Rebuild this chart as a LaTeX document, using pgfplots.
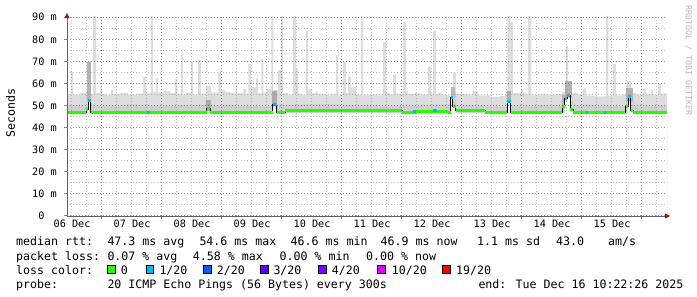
\documentclass[border=0pt]{standalone}
\usepackage{fontspec}
\setmainfont{DejaVu Sans Mono}
\setmonofont{DejaVu Sans Mono}
\usepackage{pgfplots}
\usepackage{pgfplotstable}
\pgfplotsset{compat=1.18}
\usetikzlibrary{arrows.meta}

\definecolor{loss0}{HTML}{26FF00}
\definecolor{loss1}{HTML}{00B8FF}
\definecolor{loss2}{HTML}{0059FF}
\definecolor{loss3}{HTML}{5E00FF}
\definecolor{loss4}{HTML}{7E00FF}
\definecolor{loss10}{HTML}{DD00FF}
\definecolor{loss19}{HTML}{FF0000}
\definecolor{smokeA}{HTML}{DDDDDD}
\definecolor{smokeB}{HTML}{CFCFCF}
\definecolor{smokeC}{HTML}{B2B2B2}
\definecolor{mgrid}{HTML}{821E1E}
\definecolor{mingrid}{HTML}{8C8C8C}
\definecolor{arrowc}{HTML}{8B1A1A}
\definecolor{axisc}{HTML}{606060}
\newcommand\lgfont{\fontsize{11.6bp}{14bp}\selectfont}

% upper envelope of the smoke (ms), time in hours since 06 Dec 00:00
\pgfplotstableread{
h y
10.37 55.4
12.0 65.4
12.68 55.0
15.6 55.6
18.4 69.9
19.88 55.3
20.68 91
22.0 55.8
23.6 58.3
24.28 55.2
26.0 54.8
27.88 57
28.68 55.3
31.6 55.6
34.8 55.0
38.0 55.4
40.8 63
41.88 55.6
43.88 91
44.68 56.2
45.88 62.4
46.68 56.0
49.2 56.6
51.6 55.8
53.6 62
54.52 55.3
55.88 73
56.68 55.0
58.0 55.8
59.88 70.2
60.68 55.0
62.8 70.6
63.88 55.4
66.0 58.9
67.88 56.0
70.92 65.4
71.88 57
73.6 56.2
75.6 55.8
77.88 59.3
78.52 55.6
80.92 57.5
82.0 55.4
82.92 69
83.88 58.4
85.88 62.3
86.8 55.5
88.12 71.1
88.92 55.8
90.4 57.5
92.12 91
92.92 57.0
94.8 66.1
95.88 91
96.68 55.6
98.8 55.0
100.8 91
101.88 66.4
102.8 55.4
104.4 54.8
105.88 84
106.8 57.5
108.4 55.6
109.88 56.3
110.8 55.4
113.6 54.8
115.6 55.3
118.0 72.9
118.92 55.0
120.68 69.9
122.0 55.6
122.68 63.1
124.0 58.1
125.88 55.0
127.88 91
128.8 54.8
131.6 55.0
134.0 54.6
136.8 79
137.88 55.6
139.6 55.0
140.8 63.9
142.0 55.4
144.8 87.7
146.0 56.6
146.8 55.2
149.2 55.7
151.6 55.0
154.8 67.6
155.88 55.4
156.68 83.9
157.88 55.2
158.8 55.9
160.28 55.0
162.0 54.6
163.88 58.6
164.68 64.9
166.0 55.2
169.6 55.0
172.68 56.7
174.8 54.6
179.6 54.0
183.6 54.3
186.52 91
187.6 87.7
188.68 55.6
191.88 57.5
192.68 56.0
194.0 55.2
194.8 91
196.12 55.0
199.6 55.3
202.8 54.8
206.0 55.2
208.4 56.0
210.0 77
210.8 61.1
212.0 55.6
214.8 55.0
216.8 57.8
217.88 54.6
221.6 54.2
225.88 91
226.92 54.4
228.68 68.8
229.88 54.6
232.4 55.0
234.4 61.1
236.0 55.6
238.0 55.0
240.8 57.5
242.0 55.3
244.0 57
244.8 55.0
246.8 60.1
247.88 55.4
250.37 55.4
}\tabUpper

\pgfplotstableread{
h y
10.37 46.5
18.8 52.0
19.88 46.5
92.68 49.5
94.2 46.5
163.88 53.0
164.68 49.5
165.8 46.5
186.52 51.0
187.88 46.5
209.48 52.0
210.52 53.5
211.6 47.5
212.92 46.5
234.8 53.0
235.88 47.5
236.92 46.5
250.37 46.5
}\tabLower

\pgfplotstableread{
h y
10.37 50.2
15.6 49.8
18.0 50.5
18.8 55.0
19.88 50.0
31.6 50.4
43.6 49.9
55.6 50.3
66.0 52.5
67.88 50.2
79.6 49.8
92.68 52.0
94.4 50.3
103.6 50.6
119.6 50.2
135.6 50.0
151.6 50.4
163.88 56.0
166.0 50.2
177.6 49.6
186.52 54.0
188.0 50.0
199.6 50.3
208.4 52.0
209.48 55.5
212.0 52.0
212.92 50.2
223.6 49.8
234.0 52.0
234.8 56.0
236.0 52.0
237.2 50.0
250.37 50.0
}\tabMid

\pgfplotstableread{
h y
10.37 47.0
18.0 48.3
18.8 52.5
19.88 47.0
42.2 46.9
43.6 47.0
66.28 48.7
67.6 47.0
92.68 50.3
94.2 47.0
97.6 47.6
144.4 47.0
148.8 47.3
149.88 47.5
162.8 47.1
163.88 53.8
164.68 49.8
165.8 47.6
177.6 46.9
186.52 51.8
187.88 47.0
208.4 49.4
209.48 53.0
210.52 54.6
211.6 48.2
212.92 47.0
219.6 46.8
233.6 47.0
233.88 49.5
234.8 54.2
235.88 48.0
236.92 47.0
250.37 47.0
}\tabMedian

\begin{document}
\begin{tikzpicture}
\path[use as bounding box] (0,0) rectangle (697bp,297bp);
\begin{axis}[
  at={(67bp,81bp)}, anchor=south west,
  scale only axis, width=600bp, height=200bp,
  xmin=10.37, xmax=250.37, ymin=0, ymax=90.58,
  axis x line=bottom, axis y line=left,
  axis line style={draw=axisc, line width=0.8bp, shorten >=-3bp,
    -{Triangle[length=5bp,width=5bp,color=arrowc]}},
  axis on top,
  xtick={24,48,...,240}, xticklabels={},
  minor xtick={12,18,30,36,42,54,60,66,78,84,90,102,108,114,126,132,138,150,156,162,174,180,186,198,204,210,222,228,234,246},
  extra x ticks={12,36,60,84,108,132,156,180,204,228},
  extra x tick labels={06 Dec,07 Dec,08 Dec,09 Dec,10 Dec,11 Dec,12 Dec,13 Dec,14 Dec,15 Dec},
  extra x tick style={grid=none, major tick length=0pt},
  ytick={0,10,...,90},
  yticklabels={0\phantom{ m},10 m,20 m,30 m,40 m,50 m,60 m,70 m,80 m,90 m},
  minor ytick={5,15,...,85},
  grid=both,
  major grid style={draw=mgrid, draw opacity=0.55, line width=1bp, dash pattern=on 1bp off 2bp},
  minor grid style={draw=mingrid, draw opacity=0.55, line width=1bp, dash pattern=on 1bp off 2bp},
  tick align=outside, major tick length=3bp, minor tick length=0pt,
  tick style={draw=mgrid, draw opacity=0.6, line width=1bp},
  ticklabel style={font=\fontsize{10.2bp}{12bp}\selectfont},
  xticklabel style={anchor=base, yshift=-12bp, xshift=1bp},
  yticklabel style={anchor=east, inner sep=0pt, xshift=-7bp},
]
% smoke: light envelope, darker core, then the white area below the smoke
\addplot[const plot, fill=smokeA, draw=none] table[x=h, y=y] {\tabUpper} \closedcycle;
\addplot[const plot, fill=smokeB, draw=none] table[x=h, y=y] {\tabMid} \closedcycle;
\addplot[const plot, fill=white, draw=none] table[x=h, y=y] {\tabLower} \closedcycle;

\addplot[fill=smokeC, draw=none] coordinates {(18.5,52) (18.5,69.9) (19.88,69.9) (19.88,52)};
\addplot[fill=gray!65, draw=none] coordinates {(66.0,47.5) (66.0,52.5) (67.88,52.5) (67.88,47.5)};
\addplot[fill=gray!65, draw=none] coordinates {(92.4,50) (92.4,56.5) (94.4,56.5) (94.4,50)};
\addplot[fill=gray!55, draw=none] coordinates {(163.88,54) (163.88,58.6) (165.6,58.6) (165.6,54)};
\addplot[fill=gray!65, draw=none] coordinates {(186.4,52) (186.4,56.5) (188.0,56.5) (188.0,52)};
\addplot[fill=smokeC, draw=none] coordinates {(208.4,49.5) (208.4,55) (209.48,55) (209.48,49.5)};
\addplot[fill=smokeC, draw=none] coordinates {(209.48,54) (209.48,61) (212.4,61) (212.4,54)};
\addplot[fill=smokeC, draw=none] coordinates {(234.0,52) (234.0,58) (236.8,58) (236.8,52)};

\addplot[black, line width=1bp, const plot] table[x=h, y=y] {\tabMedian};

\addplot[loss0, line width=3bp, unbounded coords=jump] coordinates {
(10.37,47.0) (18.0,47.0) (18.0,nan)
(18.0,48.3) (18.8,48.3) (18.8,nan)
(19.88,47.0) (66.28,47.0) (66.28,nan)
(66.28,48.7) (67.6,48.7) (67.6,nan)
(67.6,47.0) (92.68,47.0) (92.68,nan)
(94.2,47.0) (97.6,47.0) (97.6,nan)
(97.6,47.6) (144.4,47.6) (144.4,nan)
(144.4,47.0) (149.88,47.0) (149.88,nan)
(149.88,47.5) (162.8,47.5) (162.8,nan)
(162.8,47.1) (163.88,47.1) (163.88,nan)
(164.68,49.8) (165.8,49.8) (165.8,nan)
(165.8,47.6) (177.6,47.6) (177.6,nan)
(177.6,46.9) (186.52,46.9) (186.52,nan)
(187.88,47.0) (208.4,47.0) (208.4,nan)
(208.4,49.4) (209.48,49.4) (209.48,nan)
(211.6,48.2) (212.92,48.2) (212.92,nan)
(212.92,47.0) (219.6,47.0) (219.6,nan)
(219.6,46.8) (233.6,46.8) (233.6,nan)
(233.88,49.5) (234.8,49.5) (234.8,nan)
(235.88,48.0) (236.92,48.0) (236.92,nan)
(236.92,47.0) (250.37,47.0)
};
\addplot[loss1, line width=3bp, unbounded coords=jump] coordinates {
(18.8,52.5) (19.88,52.5) (19.88,nan)
(42.2,46.9) (43.6,46.9) (43.6,nan)
(92.68,50.3) (94.2,50.3) (94.2,nan)
(148.8,47.3) (149.88,47.3) (149.88,nan)
(156.8,47.6) (158.4,47.6) (158.4,nan)
(163.88,53.8) (164.68,53.8) (164.68,nan)
(186.52,51.8) (187.88,51.8) (187.88,nan)
(209.48,53.0) (210.52,53.0) (210.52,nan)
(210.52,54.6) (211.6,54.6) (211.6,nan)
(218.0,46.8) (218.8,46.8) (218.8,nan)
(225.0,46.8) (226.0,46.8) (226.0,nan)
(234.8,54.2) (235.88,54.2)
};
\end{axis}

\node[rotate=90, inner sep=0pt, font=\lgfont] at (10.5bp,184bp) {Seconds};
\node[rotate=-90, anchor=west, inner sep=0pt, text=gray!55, font=\fontsize{8.3bp}{10bp}\selectfont] at (688.5bp,292bp) {RRDTOOL / TOBI OETIKER};

\begin{scope}[every node/.style={anchor=base west, inner sep=0pt, font=\lgfont}]
\node at (16bp,51.3bp) {median rtt:};
\node at (107.3bp,51.3bp) {47.3 ms avg};
\node at (199.3bp,51.3bp) {54.6 ms max};
\node at (290.5bp,51.3bp) {46.6 ms min};
\node at (380.5bp,51.3bp) {46.9 ms now};
\node at (477bp,51.3bp) {1.1 ms sd};
\node at (556bp,51.3bp) {43.0};
\node at (608bp,51.3bp) {am/s};
\node at (16bp,37bp) {packet loss:};
\node at (107.3bp,37bp) {0.07 \% avg};
\node at (192.7bp,37bp) {4.58 \% max};
\node at (279.5bp,37bp) {0.00 \% min};
\node at (366bp,37bp) {0.00 \% now};
\node at (16bp,22.8bp) {loss color:};
\node at (120.7bp,22.8bp) {0};
\node at (159.3bp,22.8bp) {1/20};
\node at (216.7bp,22.8bp) {2/20};
\node at (273.3bp,22.8bp) {3/20};
\node at (331.7bp,22.8bp) {4/20};
\node at (391.7bp,22.8bp) {10/20};
\node at (456bp,22.8bp) {19/20};
\node at (16bp,8.6bp) {probe:};
\node at (107.3bp,8.6bp) {20 ICMP Echo Pings (56 Bytes) every 300s};
\node at (478.3bp,8.6bp) {end: Tue Dec 16 10:22:26 2025};
\end{scope}
\foreach \x/\c in {107.3/loss0,146/loss1,203.3/loss2,260.7/loss3,318.3/loss4,377.7/loss10,442.3/loss19}
  \draw[fill=\c, draw=black, line width=0.8bp] (\x bp,23.6bp) rectangle ++(7.6bp,7.6bp);
\end{tikzpicture}
\end{document}
